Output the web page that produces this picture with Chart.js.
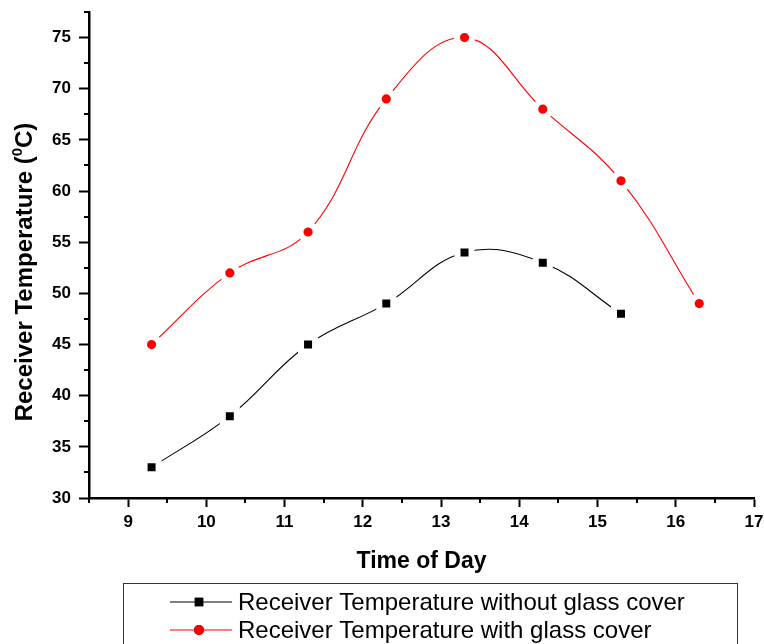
<!DOCTYPE html>
<html>
<head>
<meta charset="utf-8">
<title>Receiver Temperature</title>
<script src="https://cdn.jsdelivr.net/npm/chart.js@4.4.1/dist/chart.umd.min.js"></script>
<style>
    html, body { margin: 0; padding: 0; background: #fff; }
    #grafica { display: block; }
</style>
</head>
<body>
<canvas id="grafica" width="764" height="644"></canvas>
<script>
// ==========================================
// DATOS
// ==========================================
const horas = [9.3, 10.3, 11.3, 12.3, 13.3, 14.3, 15.3, 16.3];
const tempSinCubierta = [33, 38, 45, 49, 54, 53, 48];
const tempConCubierta = [45, 52, 56, 69, 75, 68, 61, 49];

const ticksX = [9, 10, 11, 12, 13, 14, 15, 16, 17];
const ticksY = [30, 35, 40, 45, 50, 55, 60, 65, 70, 75];
const menoresX = [8.5, 9.5, 10.5, 11.5, 12.5, 13.5, 14.5, 15.5, 16.5];
const menoresY = [32.5, 37.5, 42.5, 47.5, 52.5, 57.5, 62.5, 67.5, 72.5, 77.5];

const etiquetaSin = 'Receiver Temperature without glass cover';
const etiquetaCon = 'Receiver Temperature with glass cover';
const tituloX = 'Time of Day';

const FUENTE = "'Liberation Sans', Arial, Helvetica, sans-serif";
Chart.defaults.font.family = FUENTE;
Chart.defaults.color = '#000';

// ==========================================
// PLUGIN — ticks menores, titulo Y y leyenda con recuadro
// ==========================================
const extras = {
    id: 'extras',
    afterDraw(chart) {
        const ctx = chart.ctx;
        const sx = chart.scales.x;
        const sy = chart.scales.y;
        const area = chart.chartArea;
        ctx.save();

        // ticks menores
        ctx.strokeStyle = '#000';
        ctx.lineWidth = 2;
        ctx.beginPath();
        menoresX.forEach(v => {
            const px = Math.round(sx.getPixelForValue(v));
            ctx.moveTo(px, area.bottom);
            ctx.lineTo(px, area.bottom + 5);
        });
        menoresY.forEach(v => {
            const py = Math.round(sy.getPixelForValue(v));
            ctx.moveTo(area.left, py);
            ctx.lineTo(area.left - 5, py);
        });
        ctx.stroke();

        // titulo Y con superindice
        const fGrande = `bold 24px ${FUENTE}`;
        const fChica = `bold 15px ${FUENTE}`;
        const parte1 = 'Receiver Temperature (';
        const parte2 = '0';
        const parte3 = 'C)';
        ctx.font = fGrande;
        const w1 = ctx.measureText(parte1).width;
        const w3 = ctx.measureText(parte3).width;
        ctx.font = fChica;
        const w2 = ctx.measureText(parte2).width;
        const total = w1 + w2 + w3;
        ctx.translate(25, 272);
        ctx.rotate(-Math.PI / 2);
        ctx.textBaseline = 'middle';
        ctx.textAlign = 'left';
        ctx.fillStyle = '#000';
        let x0 = -total / 2;
        ctx.font = fGrande;
        ctx.fillText(parte1, x0, 0);
        ctx.font = fChica;
        ctx.fillText(parte2, x0 + w1, -7);
        ctx.font = fGrande;
        ctx.fillText(parte3, x0 + w1 + w2, 0);
        ctx.setTransform(1, 0, 0, 1, 0, 0);

        // leyenda
        ctx.strokeStyle = '#333';
        ctx.lineWidth = 1;
        ctx.strokeRect(123.5, 583.5, 614, 90);
        const filas = [602, 630];
        chart.data.datasets.forEach((ds, i) => {
            const y = filas[i];
            ctx.strokeStyle = ds.borderColor;
            ctx.lineWidth = 1.2;
            ctx.beginPath();
            ctx.moveTo(170, y);
            ctx.lineTo(232, y);
            ctx.stroke();
            Chart.helpers.drawPoint(ctx, {
                pointStyle: ds.pointStyle,
                radius: ds.pointStyle === 'rect' ? 6 : 5,
                borderWidth: 0
            }, 199, y);
            ctx.fillStyle = ds.pointBackgroundColor;
            ctx.fill();
            ctx.fillStyle = '#000';
            ctx.font = `24px ${FUENTE}`;
            ctx.textBaseline = 'middle';
            ctx.textAlign = 'left';
            ctx.fillText(ds.label, 238, y + 1);
        });
        ctx.restore();
    }
};

// ==========================================
// GRAFICA
// ==========================================
const ctx = document.getElementById('grafica').getContext('2d');

new Chart(ctx, {
    type: 'line',
    data: {
        datasets: [
            {
                label: etiquetaSin,
                data: tempSinCubierta.map((t, i) => ({ x: horas[i], y: t })),
                borderColor: '#000',
                borderWidth: 1.1,
                tension: 0.4,
                pointStyle: 'rect',
                pointRadius: 9.9,
                pointBackgroundColor: '#000',
                pointBorderColor: '#fff',
                pointBorderWidth: 6
            },
            {
                label: etiquetaCon,
                data: tempConCubierta.map((t, i) => ({ x: horas[i], y: t })),
                borderColor: '#ff0000',
                borderWidth: 1.1,
                tension: 0.4,
                pointStyle: 'circle',
                pointRadius: 7.6,
                pointBackgroundColor: '#ff0000',
                pointBorderColor: '#fff',
                pointBorderWidth: 6
            }
        ]
    },
    options: {
        responsive: false,
        animation: false,
        layout: { autoPadding: false, padding: { top: 12, right: 10, left: 0, bottom: 66 } },
        scales: {
            x: {
                type: 'linear',
                min: 8.5,
                max: 17,
                afterBuildTicks: s => { s.ticks = ticksX.map(v => ({ value: v })); },
                afterFit: s => { s.height = 80; s.paddingLeft = 0; s.paddingRight = 0; },
                ticks: { font: { size: 17, weight: 'bold' }, padding: 5, maxRotation: 0 },
                grid: { drawOnChartArea: false, tickLength: 9, tickWidth: 2, tickColor: '#000' },
                border: { color: '#000', width: 2.5 },
                title: {
                    display: true,
                    text: tituloX,
                    font: { size: 23, weight: 'bold' },
                    padding: { top: 0, bottom: 3 }
                }
            },
            y: {
                type: 'linear',
                min: 30,
                max: 77.5,
                afterBuildTicks: s => { s.ticks = ticksY.map(v => ({ value: v })); },
                afterFit: s => { s.width = 89; s.paddingTop = 0; s.paddingBottom = 0; },
                ticks: { font: { size: 17, weight: 'bold' }, padding: 8 },
                grid: { drawOnChartArea: false, tickLength: 10, tickWidth: 2, tickColor: '#000' },
                border: { color: '#000', width: 2.5 }
            }
        },
        plugins: {
            legend: { display: false },
            tooltip: { enabled: false }
        }
    },
    plugins: [extras]
});
</script>
</body>
</html>
